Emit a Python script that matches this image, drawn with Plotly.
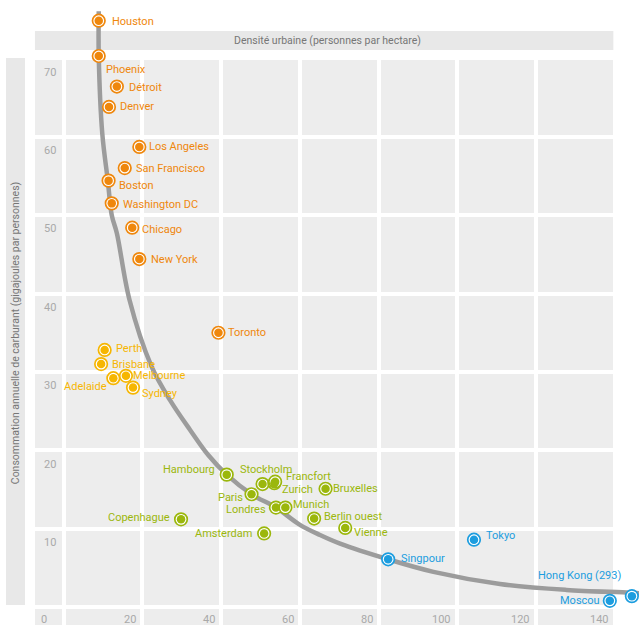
import plotly.graph_objects as go

# ---------------- data ----------------
us_names = ["Houston", "Phoenix", "Détroit", "Denver", "Los Angeles", "San Francisco",
            "Boston", "Washington DC", "Chicago", "New York", "Toronto"]
us_density = [8.9, 8.9, 13.5, 11.5, 19.2, 15.5, 11.4, 12.2, 17.4, 19.2, 39.3]
us_fuel = [74.8, 70.3, 66.4, 63.8, 58.7, 56.0, 54.4, 51.5, 48.4, 44.4, 35.0]

aus_names = ["Perth", "Brisbane", "Adelaide", "Melbourne", "Sydney"]
aus_density = [10.4, 9.5, 12.6, 15.8, 17.6]
aus_fuel = [32.8, 31.0, 29.2, 29.5, 28.0]

eur_names = ["Hambourg", "Stockholm", "Zurich", "Francfort", "Paris", "Londres", "Munich",
             "Bruxelles", "Berlin ouest", "Vienne", "Amsterdam", "Copenhague"]
eur_density = [41.4, 50.5, 53.5, 53.7, 47.7, 53.9, 56.3, 66.5, 63.6, 71.5, 50.9, 29.8]
eur_fuel = [16.9, 15.7, 15.8, 16.0, 14.4, 12.7, 12.7, 15.1, 11.3, 10.1, 9.4, 11.2]

asia_names = ["Singpour", "Tokyo", "Moscou", "Hong Kong (293)"]
asia_density = [82.4, 104.2, 138.7, 144.3]
asia_fuel = [6.1, 8.6, 0.8, 1.4]

curve_density = [8.9, 8.9, 9.8, 11.2, 12.2, 13.5, 16.7, 22.3, 27.0, 32.1, 36.7, 41.4,
                 47.7, 53.9, 60.0, 65.1, 70.2, 82.4, 93.9, 110.8, 127.7, 143.8, 146.1]
curve_fuel = [76.0, 70.3, 60.4, 54.4, 50.0, 47.7, 39.2, 30.7, 26.4, 22.6, 19.4, 16.9,
              14.4, 12.7, 10.5, 9.2, 8.1, 6.1, 4.5, 2.95, 2.2, 1.85, 1.76]

x_ticks = [0, 20, 40, 60, 80, 100, 120, 140]
y_ticks = [0, 10, 20, 30, 40, 50, 60, 70]

x_title = "Densité urbaine (personnes par hectare)"
y_title = "Consommation annuelle de carburant (gigajoules par personnes)"

# ---------------- styles ----------------
FONT = "Roboto, 'Open Sans', sans-serif"
C_US = "#EF870C"
C_AUS = "#F6B602"
C_EUR = "#9BB70C"
C_ASIA = "#1C9DDF"
C_CURVE = "#9C9C9C"
C_BAND = "#EDEDED"
C_TBAND = "#E8E8E8"
C_TICK = "#A9A9A9"
C_TITLE = "#767676"

# label placement: (anchor, dx px, dy px downwards) relative to the marker centre
label_pos = {
    "Houston": ("left", 13.6, 0.4), "Phoenix": ("left", 7, 13.6),
    "Détroit": ("left", 11.7, 0.7), "Denver": ("left", 11.3, 0),
    "Los Angeles": ("left", 10, 0), "San Francisco": ("left", 11, 0),
    "Boston": ("left", 10, 4.7), "Washington DC": ("left", 11, 0.7),
    "Chicago": ("left", 9.4, 2.3), "New York": ("left", 11.7, 0),
    "Toronto": ("left", 10, 0),
    "Perth": ("left", 11.6, -1.7), "Brisbane": ("left", 11, 0.3),
    "Adelaide": ("right", -6.6, 8.7), "Melbourne": ("left", 7.3, 0),
    "Sydney": ("left", 8.7, 5.6),
    "Hambourg": ("right", -11.7, -5), "Stockholm": ("center", 3, -15),
    "Francfort": ("left", 10.7, -4.7), "Zurich": ("left", 7.5, 6),
    "Paris": ("right", -8.4, 3.4), "Londres": ("right", -10.3, 1.7),
    "Munich": ("left", 7.4, -3.3), "Bruxelles": ("left", 7, 0),
    "Berlin ouest": ("left", 10.3, -1.8), "Vienne": ("left", 8.5, 5),
    "Amsterdam": ("right", -12.6, -0.3), "Copenhague": ("right", -11, -1.7),
    "Singpour": ("left", 12.4, -1), "Tokyo": ("left", 11.7, -4.3),
    "Hong Kong (293)": ("right", -10.7, -21), "Moscou": ("right", -10, -0.7),
}

groups = [
    (us_names, us_density, us_fuel, C_US),
    (aus_names, aus_density, aus_fuel, C_AUS),
    (eur_names, eur_density, eur_fuel, C_EUR),
    (asia_names, asia_density, asia_fuel, C_ASIA),
]

fig = go.Figure()

# trend curve
fig.add_trace(go.Scatter(
    x=curve_density, y=curve_fuel, mode="lines",
    line=dict(color=C_CURVE, width=4.5, shape="spline", smoothing=1.0),
    hoverinfo="skip", cliponaxis=False))

annotations = []
for names, xs, ys, col in groups:
    fig.add_trace(go.Scatter(
        x=xs, y=ys, mode="markers", text=names, hoverinfo="text", cliponaxis=False,
        marker=dict(size=12.5, color="white", line=dict(color=col, width=1.7))))
    fig.add_trace(go.Scatter(
        x=xs, y=ys, mode="markers", text=names, hoverinfo="text", cliponaxis=False,
        marker=dict(size=8.5, color=col, line=dict(width=0))))
    for n, xv, yv in zip(names, xs, ys):
        anc, dx, dy = label_pos[n]
        pad = -2 if anc == "left" else (2 if anc == "right" else 0)
        annotations.append(dict(
            x=xv, y=yv, xref="x", yref="y", text=n, showarrow=False,
            xanchor=anc, yanchor="middle", xshift=dx + pad, yshift=-dy,
            font=dict(family=FONT, size=11, color=col)))

# axis tick labels
for v in y_ticks[1:]:
    annotations.append(dict(
        x=-5.6, y=v, xref="x", yref="y", text=str(v), showarrow=False,
        xanchor="left", yanchor="middle", yshift=-13.8,
        font=dict(family=FONT, size=11, color=C_TICK)))
for v in x_ticks:
    annotations.append(dict(
        x=v, y=-1.52, xref="x", yref="y", text=str(v), showarrow=False,
        xanchor="right", yanchor="middle", xshift=(-15 if v == 0 else -4),
        font=dict(family=FONT, size=11, color=C_TICK)))

# axis titles
annotations.append(dict(
    x=66.9, y=72.25, xref="x", yref="y", text=x_title, showarrow=False,
    xanchor="center", yanchor="middle",
    font=dict(family=FONT, size=10.5, color=C_TITLE)))
annotations.append(dict(
    x=-12.25, y=35.0, xref="x", yref="y", text=y_title, showarrow=False,
    textangle=-90, xanchor="center", yanchor="middle",
    font=dict(family=FONT, size=10.5, color=C_TITLE)))

shapes = [
    # main plot background
    dict(type="rect", xref="x", yref="y", x0=-7.3, x1=x_ticks[-1], y0=y_ticks[0], y1=y_ticks[-1],
         fillcolor=C_BAND, line=dict(width=0), layer="below"),
    # x tick label strip
    dict(type="rect", xref="x", yref="y", x0=-7.3, x1=x_ticks[-1], y0=-3, y1=0,
         fillcolor=C_BAND, line=dict(width=0), layer="below"),
    # x title band
    dict(type="rect", xref="x", yref="y", x0=-7.3, x1=139.6, y0=71.06, y1=73.48,
         fillcolor=C_TBAND, line=dict(width=0), layer="between"),
    # y title band
    dict(type="rect", xref="x", yref="y", x0=-14.65, x1=-9.83, y0=0.27, y1=70.04,
         fillcolor=C_TBAND, line=dict(width=0), layer="between"),
]

fig.update_layout(
    width=639, height=625,
    margin=dict(l=0, r=0, t=0, b=0, pad=0),
    paper_bgcolor="white", plot_bgcolor="white",
    showlegend=False,
    font=dict(family=FONT),
    xaxis=dict(range=[-16.18, 146.11], tickvals=x_ticks, showticklabels=False,
               showgrid=True, gridcolor="white", gridwidth=4, zeroline=False,
               showline=False, ticks="", fixedrange=True),
    yaxis=dict(range=[-2.28, 77.44], tickvals=y_ticks, showticklabels=False,
               showgrid=True, gridcolor="white", gridwidth=4, zeroline=False,
               showline=False, ticks="", fixedrange=True),
    shapes=shapes,
    annotations=annotations,
)

fig.write_html(
    "out.html",
    config={"displayModeBar": False},
    post_script="document.body.style.margin='0';document.body.style.overflow='hidden';",
)
